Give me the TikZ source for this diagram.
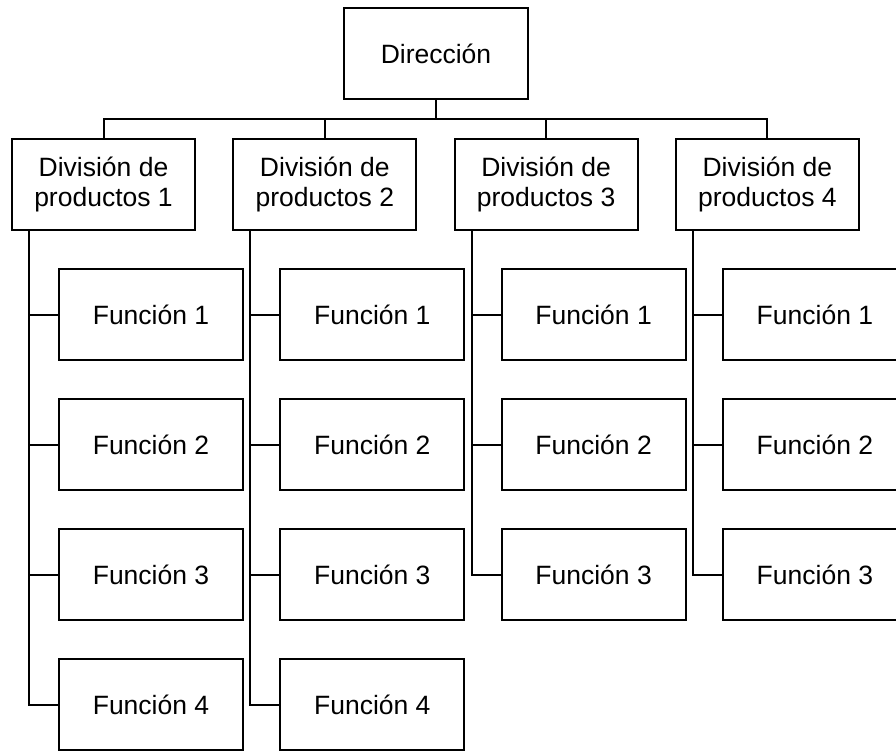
\documentclass[tikz,border=0pt]{standalone}
\usepackage{fontspec}
\setmainfont{Liberation Sans}
\usetikzlibrary{calc}
\begin{document}
\begin{tikzpicture}[x=1pt,y=-1pt,
  line width=2pt,
  box/.style={draw, minimum width=184pt, minimum height=91pt, inner sep=0pt,
    align=center, font=\fontsize{26.5}{30}\selectfont},
  link/.style={draw}]
\clip (0,0) rectangle (896,750);
\fill[white] (0,0) rectangle (896,750);

% top box
\node[box] (dir) at (436,53.5) {Dirección};
\coordinate (bus) at (0,119);

% divisions, each with its column of functions
\foreach \i/\n in {0/4,1/4,2/3,3/3}{
  \pgfmathsetmacro{\cx}{103.5+221.3*\i}
  \pgfmathtruncatemacro{\k}{\i+1}
  \node[box, minimum width=183pt] (div\k) at (\cx,184.5) {División de\\productos \k};
  \draw[link] (dir.south) -- (dir.south |- bus) -| (div\k.north);
  \coordinate (trunk\k) at ($(div\k.south west)+(18,0)$);
  \foreach \j in {1,...,\n}{
    \node[box, anchor=west] (f\k\j) at ({58+221.3*\i},{314.5+130*(\j-1)}) {Función \j};
    \draw[link] (trunk\k) |- (f\k\j.west);
  }
}
\end{tikzpicture}
\end{document}
